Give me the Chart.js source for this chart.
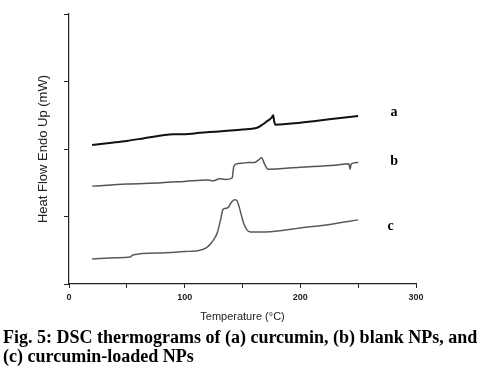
<!DOCTYPE html>
<html>
<head>
<meta charset="utf-8">
<script src="https://cdn.jsdelivr.net/npm/chart.js@4/dist/chart.umd.min.js"></script>
<style>
  body { margin: 0; background: #fff; }
  #wrap { width: 493px; height: 328px; }
  .caption {
    font: bold 18px "Liberation Serif", "Times New Roman", serif;
    line-height: 19px; color: #000; padding-left: 3px; white-space: nowrap;
  }
</style>
</head>
<body>
<div id="wrap"><canvas id="dsc" width="493" height="328"></canvas></div>
<div class="caption">Fig. 5: DSC thermograms of (a) curcumin, (b) blank NPs, and<br>(c) curcumin-loaded NPs</div>
<script>
'use strict';

// ── Datos ────────────────────────────────────────────────────────────────
const tempA = [20, 35, 50, 65, 80, 90, 100, 113, 130, 150, 162, 168, 171, 175, 176.5, 177.5, 178.5, 200, 225, 250];
const heatA = [2.06, 2.09, 2.12, 2.16, 2.20, 2.22, 2.22, 2.24, 2.26, 2.29, 2.31, 2.37, 2.41, 2.46, 2.50, 2.40, 2.36, 2.39, 2.44, 2.49];

const tempB = [20, 50, 80, 100, 120, 125, 130, 135, 141, 142.5, 145, 150, 155, 160, 164, 166.5, 169, 172, 200, 230, 242, 243, 244, 250];
const heatB = [1.45, 1.48, 1.50, 1.52, 1.54, 1.53, 1.56, 1.55, 1.57, 1.74, 1.78, 1.79, 1.80, 1.80, 1.84, 1.87, 1.78, 1.70, 1.73, 1.76, 1.78, 1.70, 1.78, 1.80];

const tempC = [20, 40, 53, 55, 80, 100, 113, 119, 124, 128, 131, 133, 135, 137.5, 140, 143, 145, 147, 149, 151, 153.5, 157, 170, 200, 228, 250];
const heatC = [0.37, 0.39, 0.40, 0.43, 0.46, 0.48, 0.50, 0.54, 0.63, 0.75, 0.95, 1.10, 1.12, 1.13, 1.20, 1.25, 1.24, 1.15, 1.02, 0.90, 0.81, 0.77, 0.77, 0.83, 0.89, 0.95];

const xTicks = [0, 100, 200, 300];
const curveNames = ['a', 'b', 'c'];
const nameTemps  = [281, 281, 278];
const nameHeats  = [2.54, 1.82, 0.86];

const toXY = (xs, ys) => xs.map((x, i) => ({ x, y: ys[i] }));

// ── Etiquetas a, b, c ────────────────────────────────────────────────────
const curveLabels = {
  id: 'curveLabels',
  afterDatasetsDraw(chart) {
    const { ctx, scales: { x, y } } = chart;
    ctx.save();
    ctx.fillStyle = '#000';
    ctx.font = 'bold 14px "Liberation Serif", serif';
    ctx.textAlign = 'center';
    ctx.textBaseline = 'middle';
    curveNames.forEach((n, i) => {
      ctx.fillText(n, x.getPixelForValue(nameTemps[i]), y.getPixelForValue(nameHeats[i]));
    });
    ctx.restore();
  },
};

const axisColor = '#222';

new Chart(document.getElementById('dsc'), {
  type: 'line',
  data: {
    datasets: [
      { data: toXY(tempA, heatA), borderColor: '#111', borderWidth: 2 },
      { data: toXY(tempB, heatB), borderColor: '#555', borderWidth: 1.5 },
      { data: toXY(tempC, heatC), borderColor: '#5a5a5a', borderWidth: 1.5 },
    ],
  },
  options: {
    responsive: false,
    animation: false,
    layout: { padding: { top: 14, right: 77, left: 0, bottom: 0 } },
    elements: {
      point: { radius: 0 },
      line: { cubicInterpolationMode: 'monotone', fill: false },
    },
    plugins: { legend: { display: false }, tooltip: { enabled: false } },
    scales: {
      x: {
        type: 'linear',
        min: 0, max: 300,
        afterFit: s => { s.height = 44; },
        grid: { drawOnChartArea: false, drawTicks: true, tickLength: 4, color: axisColor },
        border: { display: true, color: axisColor, width: 1.2 },
        ticks: {
          stepSize: 50,
          autoSkip: false,
          maxRotation: 0,
          padding: 4,
          color: '#222',
          font: { family: '"Liberation Sans", Arial, sans-serif', size: 9, weight: 'bold' },
          callback: v => (xTicks.includes(v) ? v : ''),
        },
        title: {
          display: true,
          text: 'Temperature (°C)',
          color: '#222',
          font: { family: '"Liberation Sans", Arial, sans-serif', size: 11 },
          padding: { top: 0, bottom: 4 },
        },
      },
      y: {
        type: 'linear',
        min: 0, max: 4,
        afterFit: s => { s.width = 69; },
        grid: { drawOnChartArea: false, drawTicks: true, tickLength: 5, color: axisColor },
        border: { display: true, color: axisColor, width: 1.2 },
        ticks: { stepSize: 1, display: false },
        title: {
          display: true,
          text: 'Heat Flow Endo Up (mW)',
          color: '#222',
          font: { family: '"Liberation Sans", Arial, sans-serif', size: 13 },
          padding: { top: 36, bottom: 0 },
        },
      },
    },
  },
  plugins: [curveLabels],
});
</script>
</body>
</html>
